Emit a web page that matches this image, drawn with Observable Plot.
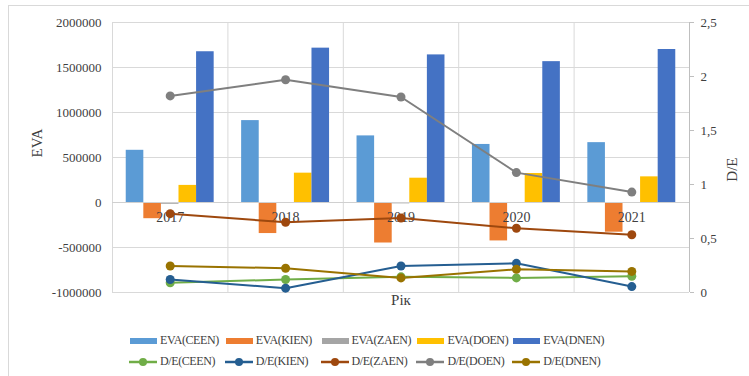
<!DOCTYPE html>
<html>
<head>
<meta charset="utf-8">
<script src="https://cdn.jsdelivr.net/npm/d3@7"></script>
<script src="https://cdn.jsdelivr.net/npm/@observablehq/plot@0.6"></script>
<style>
  html, body { margin: 0; padding: 0; background: #fff; }
  #wrap { position: relative; width: 749px; height: 376px; overflow: hidden; font-family: "Times New Roman", "Liberation Serif", Times, "DejaVu Serif", serif; color: #404040; }
  #wrap svg text { font-family: "Times New Roman", "Liberation Serif", Times, "DejaVu Serif", serif; }
  #frame { position: absolute; left: 8px; top: 5px; width: 760px; height: 400px; border-top: 1px solid #d9d9d9; border-left: 1px solid #d9d9d9; pointer-events: none; }
  #chart { position: absolute; left: 0; top: 0; }
  #legend { position: absolute; left: 0; top: 322px; width: 749px; height: 54px; }
  .item { position: absolute; display: flex; align-items: center; font-size: 12px; letter-spacing: -0.4px; white-space: nowrap; }
  .item svg { margin-right: 3px; }
</style>
</head>
<body>
<div id="wrap">
  <div id="chart"></div>
  <div id="legend"></div>
  <div id="frame"></div>
</div>
<script>
const years = [2017, 2018, 2019, 2020, 2021];
const series = ["CEEN", "KIEN", "ZAEN", "DOEN", "DNEN"];

const evaCEEN = [580000, 910000, 740000, 645000, 665000];
const evaKIEN = [-180000, -345000, -450000, -427000, -330000];
const evaZAEN = [-20000, -10000, -15000, -5000, -5000];
const evaDOEN = [190000, 326000, 270000, 322000, 285000];
const evaDNEN = [1675000, 1715000, 1640000, 1565000, 1700000];

const deCEEN = [0.09, 0.12, 0.145, 0.135, 0.15];
const deKIEN = [0.12, 0.04, 0.245, 0.27, 0.055];
const deZAEN = [0.73, 0.65, 0.69, 0.595, 0.535];
const deDOEN = [1.82, 1.97, 1.81, 1.11, 0.93];
const deDNEN = [0.245, 0.225, 0.135, 0.215, 0.195];

const evaTicks = [-1000000, -500000, 0, 500000, 1000000, 1500000, 2000000];
const deTicks = [0, 0.5, 1, 1.5, 2, 2.5];

const barColors = ["#5B9BD5", "#ED7D31", "#A5A5A5", "#FFC000", "#4472C4"];
const lineColors = ["#70AD47", "#255E91", "#9E480E", "#7F7F7F", "#997300"];

const evaSeries = [evaCEEN, evaKIEN, evaZAEN, evaDOEN, evaDNEN];
const deSeries = [deCEEN, deKIEN, deZAEN, deDOEN, deDNEN];

// secondary axis mapping: D/E [0, 2.5] -> EVA [-1e6, 2e6]
const evaMin = evaTicks[0], evaMax = evaTicks[evaTicks.length - 1];
const deMax = deTicks[deTicks.length - 1];
const deToEva = d => evaMin + d * (evaMax - evaMin) / deMax;

// bar layout within each year band (band = 1 unit)
const barW = 0.1524;
const pad = (1 - series.length * barW) / 2;

const bars = [];
series.forEach((s, si) => years.forEach((yr, yi) => {
  const x1 = yr - 0.5 + pad + si * barW;
  bars.push({ s, si, x1, x2: x1 + barW, v: evaSeries[si][yi] });
}));
const pts = [];
series.forEach((s, si) => years.forEach((yr, yi) => {
  pts.push({ s, si, year: yr, de: deSeries[si][yi], y: deToEva(deSeries[si][yi]) });
}));

const bands = [years[0] - 0.5, ...years.map(y => y + 0.5)];
const fmtDE = d => String(d).replace(".", ",");
const FONT = '"Times New Roman", "Liberation Serif", Times, "DejaVu Serif", serif';

const chart = Plot.plot({
  width: 749,
  height: 322,
  marginLeft: 112,
  marginRight: 60,
  marginTop: 22,
  marginBottom: 30,
  style: { fontFamily: FONT, fontSize: "13px", color: "#404040", background: "transparent" },
  x: { domain: [bands[0], bands[bands.length - 1]], axis: null },
  y: { domain: [evaMin, evaMax], axis: null },
  marks: [
    Plot.ruleY(evaTicks, { stroke: "#d9d9d9", strokeWidth: 1 }),
    Plot.ruleX(bands, { stroke: "#d9d9d9", strokeWidth: 1 }),
    Plot.rectY(bars, { x1: "x1", x2: "x2", y1: 0, y2: "v", fill: d => barColors[d.si] }),
    Plot.ruleY([0], { stroke: "#d0d0d0", strokeWidth: 1 }),
    Plot.axisY({ ticks: evaTicks, tickSize: 0, tickPadding: 11, tickFormat: d => String(d), fontSize: 13, label: null, anchor: "left" }),
    Plot.axisY({ anchor: "right", ticks: deTicks.map(deToEva), tickFormat: d => fmtDE(deTicks[deTicks.map(deToEva).indexOf(d)]), tickSize: 4, tickPadding: 7, stroke: "#bfbfbf", fontSize: 13, label: null }),
    Plot.ruleX([bands[bands.length - 1]], { stroke: "#bfbfbf" }),
    Plot.text(years, { x: d => d, y: 0, dy: 15, text: d => String(d), fontSize: 14, fill: "#404040" }),
    Plot.text(["EVA"], { frameAnchor: "left", dx: -75, rotate: -90, fontSize: 15, fill: "#404040" }),
    Plot.text(["D/E"], { frameAnchor: "right", dx: 43, rotate: -90, fontSize: 15, fill: "#404040" }),
    Plot.text(["Рік"], { frameAnchor: "bottom", dy: 12, fontSize: 15, fill: "#404040" }),
    ...series.map((s, si) => Plot.line(pts.filter(p => p.si === si), { x: "year", y: "y", stroke: lineColors[si], strokeWidth: 2 })),
    ...series.map((s, si) => Plot.dot(pts.filter(p => p.si === si), { x: "year", y: "y", r: 4.5, fill: lineColors[si], stroke: "none" }))
  ]
});
document.getElementById("chart").appendChild(chart);

// legend
const legend = document.getElementById("legend");
const lx0 = 130, lstep = 95.8;
series.forEach((s, si) => {
  const it = document.createElement("div");
  it.className = "item";
  it.style.left = (lx0 + si * lstep) + "px";
  it.style.top = "11px";
  it.innerHTML = `<svg width="27" height="8"><rect x="0" y="1" width="27" height="6" fill="${barColors[si]}"/></svg><span>EVA(${s})</span>`;
  legend.appendChild(it);
  const it2 = document.createElement("div");
  it2.className = "item";
  it2.style.left = (lx0 - 1 + si * lstep) + "px";
  it2.style.top = "32px";
  it2.innerHTML = `<svg width="28" height="10"><line x1="0" y1="5" x2="28" y2="5" stroke="${lineColors[si]}" stroke-width="2.5"/><circle cx="14" cy="5" r="4" fill="${lineColors[si]}"/></svg><span>D/E(${s})</span>`;
  legend.appendChild(it2);
});
</script>
</body>
</html>
